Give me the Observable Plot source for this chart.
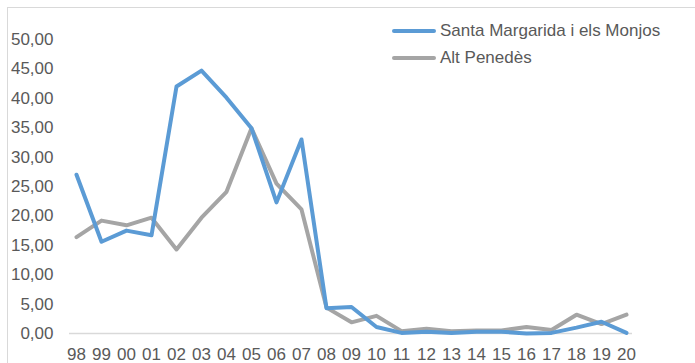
<!DOCTYPE html>
<html>
<head>
<meta charset="utf-8">
<script src="https://cdn.jsdelivr.net/npm/d3@7"></script>
<script src="https://cdn.jsdelivr.net/npm/@observablehq/plot@0.6"></script>
<style>
  html, body { margin: 0; padding: 0; background: #fff; }
  #wrap { position: relative; width: 695px; height: 363px; overflow: hidden; font-family: "Liberation Sans", Arial, sans-serif; }
  #frame { position: absolute; left: 7px; top: 7px; width: 700px; height: 400px; border: 1px solid #D9D9D9; box-sizing: border-box; }
  #chart { position: absolute; left: 0; top: 0; }
  #legend { position: absolute; left: 392px; top: 17px; font-size: 17px; color: #595959; }
  .item { display: flex; align-items: center; height: 27px; }
  .sw { width: 44px; height: 4px; border-radius: 2px; margin-right: 4px; }
</style>
</head>
<body>
<div id="wrap">
  <div id="frame"></div>
  <div id="chart"></div>
  <div id="legend"></div>
</div>
<script>
const years = ["98","99","00","01","02","03","04","05","06","07","08","09","10","11","12","13","14","15","16","17","18","19","20"];
const santaMargarida = [27.0,15.6,17.5,16.7,42.0,44.7,40.1,34.9,22.3,33.0,4.3,4.5,1.1,0.1,0.3,0.1,0.3,0.3,0.0,0.1,1.0,2.0,0.1];
const altPenedes = [16.4,19.2,18.4,19.7,14.3,19.7,24.1,34.9,25.5,21.1,4.4,1.9,3.0,0.4,0.8,0.4,0.5,0.5,1.1,0.6,3.2,1.6,3.2];
const seriesNames = ["Santa Margarida i els Monjos", "Alt Penedès"];
const seriesColors = ["#5B9BD5", "#A5A5A5"];
const yTicks = [0,5,10,15,20,25,30,35,40,45,50];

const rows = [];
years.forEach((y, i) => {
  rows.push({year: y, value: santaMargarida[i], series: seriesNames[0]});
  rows.push({year: y, value: altPenedes[i], series: seriesNames[1]});
});

const fmt = v => v.toFixed(2).replace(".", ",");

const chart = Plot.plot({
  width: 695,
  height: 363,
  marginLeft: 69,
  marginRight: 63,
  marginTop: 39,
  marginBottom: 30,
  style: {fontFamily: "'Liberation Sans', Arial, sans-serif", fontSize: "17px", color: "#595959", background: "transparent"},
  x: {type: "point", domain: years, padding: 0, label: null},
  y: {domain: [0, 50], label: null},
  color: {domain: seriesNames, range: seriesColors},
  marks: [
    Plot.ruleY([0], {stroke: "#D9D9D9", strokeWidth: 1.5}),
    Plot.axisY({ticks: yTicks, tickFormat: fmt, tickSize: 0, tickPadding: 16, label: null, fill: "#595959", fontSize: 17}),
    Plot.axisX({tickSize: 0, tickPadding: 14, label: null, fill: "#595959", fontSize: 17}),
    Plot.line(rows.filter(d => d.series === seriesNames[1]), {x: "year", y: "value", stroke: "series", strokeWidth: 4, strokeLinejoin: "round", strokeLinecap: "round"}),
    Plot.line(rows.filter(d => d.series === seriesNames[0]), {x: "year", y: "value", stroke: "series", strokeWidth: 4, strokeLinejoin: "round", strokeLinecap: "round"})
  ]
});
document.getElementById("chart").appendChild(chart);

const legend = document.getElementById("legend");
seriesNames.forEach((n, i) => {
  const it = document.createElement("div");
  it.className = "item";
  const sw = document.createElement("div");
  sw.className = "sw";
  sw.style.background = seriesColors[i];
  const t = document.createElement("span");
  t.textContent = n;
  it.appendChild(sw); it.appendChild(t);
  legend.appendChild(it);
});
</script>
</body>
</html>
